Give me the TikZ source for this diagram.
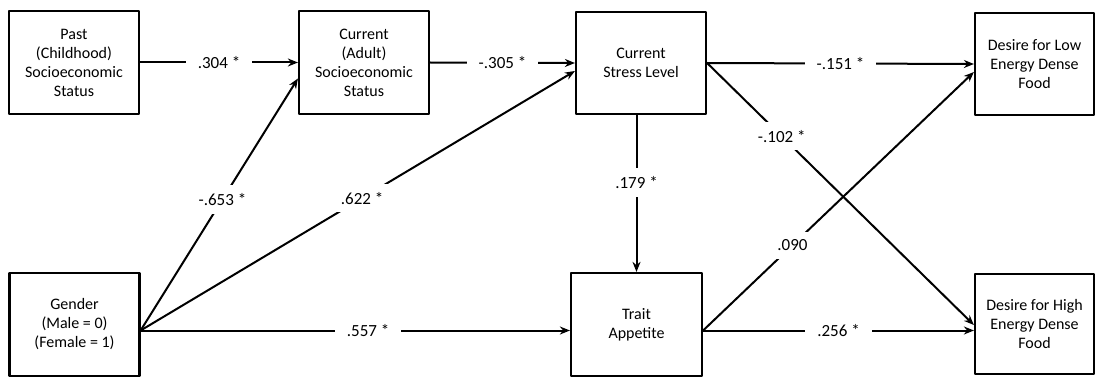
\documentclass[tikz,border=0pt]{standalone}
\usepackage{fontspec}
\setmainfont{Carlito}
\usetikzlibrary{calc,arrows.meta}

\begin{document}
\begin{tikzpicture}[x=1pt,y=-1pt,line join=round,>={Stealth[length=10pt,width=8pt]},line width=2pt,
	hop/.style={draw,line width=2.2pt,align=center,inner sep=0pt,font=\fontsize{16}{19}\selectfont},
	hs/.style={fill=white,inner xsep=12pt,inner ysep=8pt,font=\fontsize{17}{20}\selectfont}]
	\useasboundingbox (0,0) rectangle (1097,377);
	% Hộp trên
	\node[hop,minimum width=130pt,minimum height=103pt] (past) at (74,62.5) {Past\\(Childhood)\\Socioeconomic\\Status};
	\node[hop,minimum width=130pt,minimum height=103pt] (adult) at (364,62.5) {Current\\(Adult)\\Socioeconomic\\Status};
	\node[hop,minimum width=130pt,minimum height=102pt] (stress) at (641,63) {Current\\Stress Level};
	\node[hop,minimum width=119pt,minimum height=102pt] (low) at (1034.5,64) {Desire for Low\\Energy Dense\\Food};
	% Hộp dưới
	\node[hop,minimum width=130pt,minimum height=103pt] (gender) at (74.5,324.5) {Gender\\(Male = 0)\\(Female = 1)};
	\node[hop,minimum width=131pt,minimum height=103pt] (trait) at (636.5,324.5) {Trait\\Appetite};
	\node[hop,minimum width=119pt,minimum height=100pt] (high) at (1034.5,324) {Desire for High\\Energy Dense\\Food};
	\coordinate (g0) at ($(gender.east)+(0,6)$);
	\coordinate (t0) at ($(trait.east)+(0,6)$);
	% Mũi tên
	\draw[->] (past.east) -- node[hs]{.304 *} (adult.west);
	\draw[->] (adult.east) -- node[hs]{-.305 *} (stress.west);
	\draw[->] (stress.east) -- node[hs]{-.151 *} (low.west);
	\draw[->] (stress.south -| trait.north) -- node[hs,pos=.43]{.179 *} (trait.north);
	\draw[->] (g0) -- node[hs,pos=.53]{.557 *} (trait.west |- g0);
	\draw[->] (t0) -- node[hs]{.256 *} (high.west |- t0);
	\draw[->] (g0) -- node[hs,pos=.52]{-.653 *} ($(adult.west)+(0,16)$);
	\draw[->] (g0) -- node[hs,pos=.51]{.622 *} ($(stress.west)+(0,8)$);
	\draw[->] (stress.east) -- node[hs,pos=.28]{-.102 *} ($(high.west)+(0,1)$);
	\draw[->] (t0) -- node[hs,pos=.33]{.090} ($(low.west)+(0,8)$);
\end{tikzpicture}
\end{document}
